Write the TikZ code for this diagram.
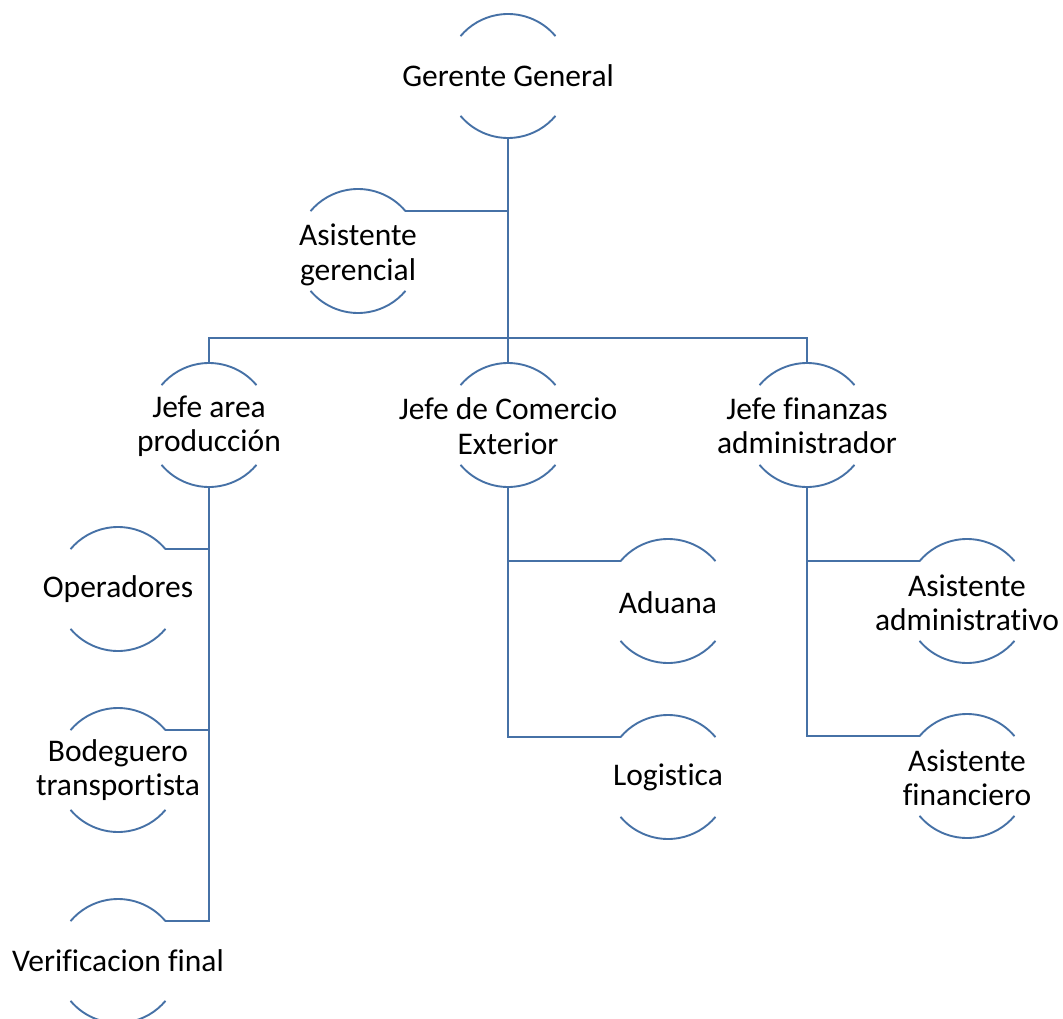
\documentclass[tikz,border=0pt]{standalone}
\usepackage{fontspec}
\setmainfont{Carlito}[Ligatures=NoCommon]
\usetikzlibrary{calc}
\definecolor{lineblue}{RGB}{70,113,166}
\begin{document}
\begin{tikzpicture}[x=1pt,y=1pt,
  bub/.style={align=center,inner sep=0pt,font=\fontsize{31.5}{34.5}\selectfont,text=black},
  arcline/.style={draw=lineblue,line width=1.9pt},
  conn/.style={draw=lineblue,line width=1.9pt}]
\useasboundingbox (0,0) rectangle (1063,-1019);
\node[bub] (gg) at (508,-76) {Gerente General};
\node[bub] (ag) at (358,-255) {Asistente\\gerencial};
\node[bub] (jp) at (209,-426) {Jefe area\\producción};
\node[bub] (jc) at (508,-426) {Jefe de Comercio\\Exterior};
\node[bub] (jf) at (807,-426) {Jefe finanzas\\administrador};
\node[bub] (op) at (118,-589) {Operadores};
\node[bub] (bo) at (118,-770) {Bodeguero\\transportista};
\node[bub] (vf) at (118,-961) {Verificacion final};
\node[bub] (ad) at (668,-603) {Aduana};
\node[bub] (lo) at (668,-777) {Logistica};
\node[bub] (aa) at (967,-603) {Asistente\\administrativo};
\node[bub] (af) at (967,-778) {Asistente\\financiero};
\foreach \n/\dy in {gg/0,ag/-4,jp/-1,jc/-1,jf/-1,op/0,bo/0,vf/0,ad/-2,lo/0,aa/-2,af/-2}{
  \path (\n.center) ++(0,-\dy) coordinate (\n-c);
  \path (\n-c) ++(90:62) coordinate (\n-t);
  \path (\n-c) ++(270:62) coordinate (\n-b);
  \path (\n-c) ++(40:62) coordinate (\n-tr);
  \path (\n-c) ++(140:62) coordinate (\n-tl);
  \path (\n-c) ++(220:62) coordinate (\n-bl);
  \draw[arcline] (\n-tr) arc[start angle=40,end angle=140,radius=62];
  \draw[arcline] (\n-bl) arc[start angle=220,end angle=320,radius=62];
}
\coordinate (bus) at (508,-338);
\draw[conn] (gg-b) -- (jc-t);
\draw[conn] (ag-tr) -- (ag-tr -| gg-b);
\draw[conn] (jp-t) |- (bus) -| (jf-t);
\draw[conn] (jp-b) |- (vf-tr);
\draw[conn] (op-tr) -- (op-tr -| jp-b);
\draw[conn] (bo-tr) -- (bo-tr -| jp-b);
\draw[conn] (jc-b) |- (lo-tl);
\draw[conn] (ad-tl) -- (ad-tl -| jc-b);
\draw[conn] (jf-b) |- (af-tl);
\draw[conn] (aa-tl) -- (aa-tl -| jf-b);
\end{tikzpicture}
\end{document}
